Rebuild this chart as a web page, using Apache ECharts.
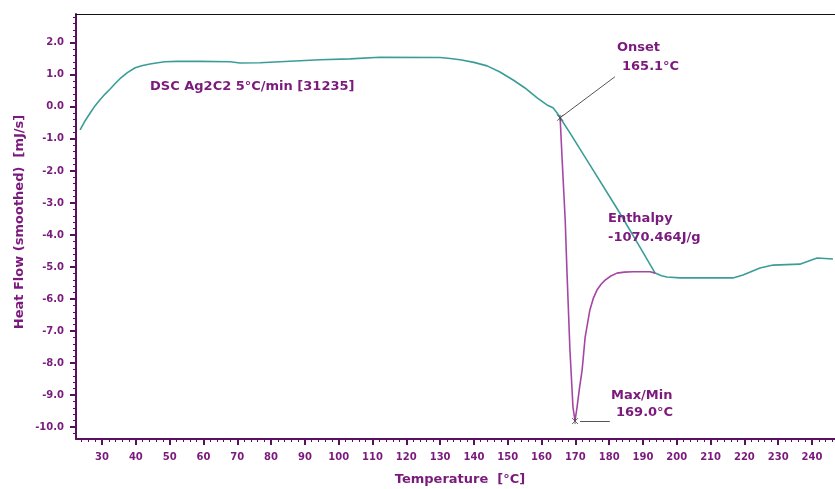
<!DOCTYPE html>
<html>
<head>
<meta charset="utf-8">
<title>DSC Ag2C2</title>
<script src="https://cdn.jsdelivr.net/npm/echarts@6/dist/echarts.min.js"></script>
<style>
  html, body { margin: 0; padding: 0; background: #fff; }
  #chart { width: 835px; height: 489px; }
</style>
</head>
<body>
<div id="chart"></div>
<script>
  // DSC trace (teal): [temperature °C, heat flow mJ/s]
  var dscCurve = [
    [23.5, -0.72], [24.9, -0.45], [26.5, -0.19], [27.9, 0.03], [29.4, 0.22],
    [30.9, 0.40], [32.4, 0.56], [33.9, 0.73], [35.3, 0.88], [37.5, 1.07],
    [39.8, 1.22], [42.0, 1.29], [44.2, 1.34], [46.5, 1.38], [48.6, 1.41],
    [52.0, 1.42], [59.0, 1.42], [67.9, 1.41], [70.8, 1.37], [76.7, 1.38],
    [82.6, 1.41], [94.5, 1.47], [103.4, 1.50], [112.2, 1.55], [130.0, 1.54],
    [133.0, 1.51], [135.9, 1.47], [140.0, 1.39], [143.9, 1.28], [147.7, 1.09],
    [151.6, 0.84], [155.1, 0.59], [158.7, 0.28], [161.6, 0.06], [163.4, -0.03],
    [164.6, -0.19], [165.5, -0.34], [168.4, -0.81], [174.3, -1.81], [182.6, -3.22],
    [189.1, -4.38], [193.6, -5.19], [195.5, -5.27], [197.1, -5.31], [201.0, -5.34],
    [216.6, -5.34], [219.6, -5.25], [224.6, -5.03], [228.5, -4.94], [236.4, -4.91],
    [241.5, -4.72], [246.2, -4.75]
  ];
  // melting peak (purple)
  var peakCurve = [
    [165.5, -0.34], [166.1, -1.66], [167.0, -3.53], [167.5, -5.09], [168.4, -7.59],
    [169.3, -9.38], [169.9, -9.80], [170.5, -9.38], [171.2, -8.80], [172.0, -8.22],
    [172.9, -7.19], [174.3, -6.34], [175.3, -5.98], [176.4, -5.72], [177.6, -5.54],
    [178.8, -5.41], [180.5, -5.28], [182.3, -5.19], [184.5, -5.16], [187.1, -5.15],
    [192.1, -5.15], [193.6, -5.19]
  ];
  var onsetPoint = [165.5, -0.34];
  var minPoint = [169.9, -9.80];
  var onsetLeaderEnd = [181.7, 0.94];
  var minLeaderEnd = [180.2, -9.81];

  var xTicks = [30, 40, 50, 60, 70, 80, 90, 100, 110, 120, 130, 140, 150, 160, 170, 180, 190, 200, 210, 220, 230, 240];
  var yTicks = [-10, -9, -8, -7, -6, -5, -4, -3, -2, -1, 0, 1, 2];

  var xMinor = [];
  for (var t = 24; t <= 246; t += 2) xMinor.push(t);
  var yMinor = [];
  for (var k = -51; k <= 14; k++) yMinor.push(Math.round(k * 20) / 100);

  var teal = '#3b9d99';
  var purple = '#a546a6';
  var textPurple = '#7a1a7c';
  var axisPurple = '#5c0f60';
  var font = 'bold 13px "DejaVu Sans"';
  var xMin = 22.3, xMax = 246.8, yMin = -10.37, yMax = 2.9;

  function txt(x, y, s) {
    return {
      type: 'text', x: x, y: y, z: 100,
      style: { text: s, font: font, fill: textPurple, verticalAlign: 'middle' }
    };
  }

  var myChart = echarts.init(document.getElementById('chart'));
  myChart.setOption({
    animation: false,
    grid: { left: 76, right: 0, top: 14, bottom: 50 },
    xAxis: [{
      type: 'value', min: xMin, max: xMax,
      axisLine: { onZero: false, lineStyle: { color: axisPurple, width: 2 } },
      axisTick: { customValues: xTicks, length: 6, lineStyle: { color: axisPurple, width: 2 } },
      axisLabel: {
        customValues: xTicks, margin: 13, color: textPurple,
        fontFamily: 'DejaVu Sans', fontWeight: 'bold', fontSize: 10
      },
      splitLine: { show: false }
    }, {
      type: 'value', min: xMin, max: xMax, position: 'bottom',
      axisLine: { show: false, onZero: false },
      axisTick: { customValues: xMinor, length: 3, lineStyle: { color: axisPurple, width: 1 } },
      axisLabel: { show: false },
      splitLine: { show: false }
    }, {
      // black frame line along the top
      type: 'value', min: xMin, max: xMax, position: 'top',
      axisLine: { show: true, onZero: false, lineStyle: { color: '#111', width: 1.2 } },
      axisTick: { show: false },
      axisLabel: { show: false },
      splitLine: { show: false }
    }],
    yAxis: [{
      type: 'value', min: yMin, max: yMax,
      axisLine: { show: true, onZero: false, lineStyle: { color: axisPurple, width: 2 } },
      axisTick: { show: true, customValues: yTicks, length: 6, lineStyle: { color: axisPurple, width: 2 } },
      axisLabel: {
        customValues: yTicks, margin: 12, color: textPurple,
        fontFamily: 'DejaVu Sans', fontWeight: 'bold', fontSize: 10,
        formatter: function (v) { return v.toFixed(1); }
      },
      splitLine: { show: false }
    }, {
      type: 'value', min: yMin, max: yMax, position: 'left',
      axisLine: { show: false, onZero: false },
      axisTick: { show: true, customValues: yMinor, length: 3, lineStyle: { color: axisPurple, width: 1 } },
      axisLabel: { show: false },
      splitLine: { show: false }
    }],
    series: [{
      name: 'DSC', type: 'line', data: dscCurve, showSymbol: false,
      lineStyle: { color: teal, width: 1.6 }, z: 3
    }, {
      name: 'Peak', type: 'line', data: peakCurve, showSymbol: false,
      lineStyle: { color: purple, width: 1.6 }, z: 4,
      markLine: {
        silent: true, symbol: 'none', label: { show: false },
        lineStyle: { color: '#555', width: 1, type: 'solid' },
        data: [
          [{ coord: onsetPoint }, { coord: onsetLeaderEnd }],
          [{ coord: [minPoint[0] + 1.5, minLeaderEnd[1]] }, { coord: minLeaderEnd }]
        ]
      }
    }, {
      type: 'scatter', data: [onsetPoint, [minPoint[0], minLeaderEnd[1]]],
      symbol: 'path://M0,0L10,10M10,0L0,10M5,0L5,10', symbolSize: 6,
      itemStyle: { color: 'none', borderColor: '#444', borderWidth: 1 }, z: 6
    }],
    graphic: [
      txt(150, 87, 'DSC Ag2C2 5°C/min [31235]'),
      txt(617, 48, 'Onset'),
      txt(622, 67, '165.1°C'),
      txt(608, 219, 'Enthalpy'),
      txt(608, 238, '-1070.464J/g'),
      txt(611, 396, 'Max/Min'),
      txt(616, 413, '169.0°C'),
      {
        type: 'text', x: 460, y: 480, z: 100,
        style: { text: 'Temperature  [°C]', font: font, fill: textPurple, align: 'center', verticalAlign: 'middle' }
      },
      {
        type: 'text', x: 20, y: 222, rotation: Math.PI / 2, z: 100,
        style: { text: 'Heat Flow (smoothed)  [mJ/s]', font: font, fill: textPurple, align: 'center', verticalAlign: 'middle' }
      }
    ]
  });
</script>
</body>
</html>
